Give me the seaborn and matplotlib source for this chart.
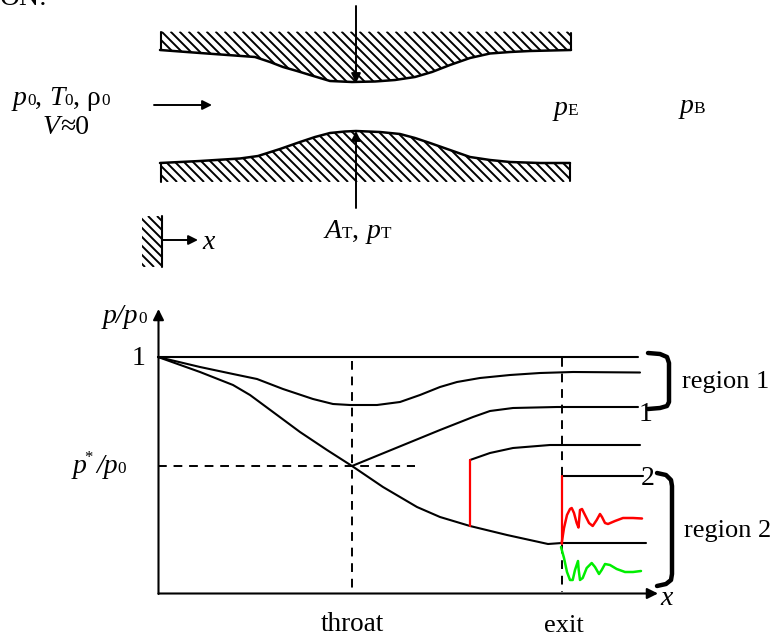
import matplotlib
matplotlib.use("Agg")
import matplotlib.pyplot as plt
from matplotlib.collections import LineCollection
import seaborn as sns

sns.set_theme(style="white")
plt.rcParams["font.family"] = ["Liberation Serif", "DejaVu Serif"]

# nozzle contours
upper_x = [160, 200, 255, 270, 283, 297, 310, 330, 352, 375, 395, 415, 432, 450, 470, 490, 510, 530, 571]
upper_y = [50, 53, 57, 62, 67, 71, 75, 81, 82, 81.5, 80, 77, 72, 65, 58, 53.5, 52, 51, 50]
lower_x = [160, 200, 240, 258, 280, 300, 315, 330, 345, 356, 380, 400, 415, 430, 450, 470, 490, 510, 540, 570]
lower_y = [163, 161, 158.5, 156, 149, 142, 137, 133, 131.5, 131, 132, 134, 138, 143, 150, 157, 160, 162, 163, 163]
nozzle_top = [31.5, 32.5]
nozzle_bottom = [182, 181]
nozzle_ends = [160.5, 571]
wall_x = [142, 162]
wall_y = [216, 267]

# pressure curves
subsonic_high_x = [158, 638]
subsonic_high_y = [357, 357]
subsonic_x = [158, 200, 233, 257, 283, 313, 333, 350, 377, 400, 420, 440, 457, 480, 510, 540, 573, 640]
subsonic_y = [357, 367, 374, 379, 389, 399, 404, 405, 405, 402, 395, 387, 382, 378, 375, 373, 372, 372.5]
choked_x = [352, 440, 473, 490, 513, 557, 638]
choked_y = [466, 430, 417, 411, 408, 407, 407]
super_x = [158, 200, 233, 250, 273, 300, 327, 352, 383, 417, 440, 470, 507, 548, 562, 646]
super_y = [357, 372, 385, 395, 412, 432, 450, 466, 487, 507, 517, 526, 535, 544, 543, 543]
shock_x = [470, 470]
shock_y = [526, 460]
post_shock_x = [470, 490, 513, 550, 640]
post_shock_y = [460, 453, 448, 445, 445]
line2_x = [562, 643]
line2_y = [476, 476]
exit_shock_x = [561.5, 561.5]
exit_shock_y = [476, 544]
red_x = [561.7, 564, 567, 570, 571.7, 574, 576.7, 578.5, 580, 582, 586, 589, 592.7, 596.7, 600, 602, 605, 608, 615, 623, 633, 642]
red_y = [543, 528, 515, 509, 508, 513, 523, 527.5, 510, 509, 517, 523, 526, 520, 514, 517, 523, 524, 521, 518, 518, 518.5]
green_x = [561, 564, 567, 570, 572.7, 575, 578, 578.7, 580, 582.7, 586.7, 591.7, 595, 599, 601.7, 605, 610, 616.7, 625, 633, 641]
green_y = [547, 558, 572, 580, 580, 570, 561, 570, 580, 578, 568, 563, 567, 574, 570, 564, 565, 569, 572, 572, 571]

# guides
throat_x = [352, 352]
throat_y = [361, 594]
exit_x = [562, 562]
exit_y = [358, 592]
critical_x = [158, 415]
critical_y = [466, 466]

# brackets
bracket1_x = [648, 660, 667, 669, 669, 667, 660, 648]
bracket1_y = [353, 354, 357, 363, 402, 406, 408, 409]
bracket2_x = [657, 666, 671, 672, 672, 671, 666, 657]
bracket2_y = [473, 475, 480, 486, 574, 580, 584, 586]

fig = plt.figure(figsize=(7.73, 6.38), dpi=100)
ax = fig.add_axes([0, 0, 1, 1])
ax.set_xlim(0, 773)
ax.set_ylim(638, 0)
ax.axis("off")


def line(x, y, color="black", lw=1.5, ls="-"):
    sns.lineplot(x=x, y=y, sort=False, estimator=None, color=color, linewidth=lw,
                 linestyle=ls, ax=ax, legend=False)


def arrow(start, end, lw=1.4, scale=14):
    ax.annotate("", xy=end, xytext=start,
                arrowprops=dict(arrowstyle="-|>", color="black", lw=lw, mutation_scale=scale,
                                shrinkA=0, shrinkB=0))


def runs(x, y, parts, size=20):
    """Draw consecutive text runs on one baseline. parts: (text, italic, small)."""
    fig.canvas.draw()
    r = fig.canvas.get_renderer()
    for txt, italic, small in parts:
        t = ax.text(x, y, txt, fontsize=size * (0.62 if small else 1),
                    style="italic" if italic else "normal", color="black",
                    va="baseline", ha="left")
        w, _, _ = r.get_text_width_height_descent(txt.replace(" ", "\u00a0"), t.get_fontproperties(), False)
        x += w


def hatch_region(xs, y0, y1):
    poly = ax.fill_between(xs, y0, y1, facecolor="white", linewidth=0)
    top = min(min(y0), min(y1))
    bot = max(max(y0), max(y1))
    segs = []
    c = -500
    while c < 800:
        segs.append([(c + top, top), (c + bot, bot)])
        c += 9
    lc = LineCollection(segs, colors="black", linewidths=1.4)
    ax.add_collection(lc, autolim=False)
    lc.set_clip_path(poly.get_paths()[0], poly.get_transform())


hatch_region(upper_x, [nozzle_top[0]] * len(upper_x), upper_y)
hatch_region(lower_x, lower_y, [nozzle_bottom[0]] * len(lower_x))
hatch_region(wall_x, [wall_y[0]] * 2, [wall_y[1]] * 2)

line(upper_x, upper_y, lw=1.8)
line(lower_x, lower_y, lw=1.8)
line([nozzle_ends[0]] * 2, [nozzle_top[0], upper_y[0]], lw=1.5)
line([nozzle_ends[1]] * 2, [nozzle_top[1], upper_y[-1]], lw=1.5)
line([nozzle_ends[0]] * 2, [lower_y[0], nozzle_bottom[0]], lw=1.5)
line([nozzle_ends[1] - 1] * 2, [lower_y[-1], nozzle_bottom[1]], lw=1.5)
line([wall_x[1]] * 2, wall_y, lw=1.5)

arrow((356, 6), (356, 83))
arrow((356, 208), (356, 131))
arrow((154, 105), (212, 105))
arrow((162, 240), (198, 240))

# axes
arrow((158.5, 594), (158.5, 309), lw=1.5, scale=16)
arrow((158.5, 593.5), (658, 593.5), lw=1.5, scale=16)

# pressure curves
line(throat_x, throat_y, lw=1.4, ls=(0, (4.5, 3.5)))
line(exit_x, exit_y, lw=1.4, ls=(0, (4.5, 3.5)))
line(critical_x, critical_y, lw=1.4, ls=(0, (4.5, 3.5)))
for xs, ys in [(subsonic_high_x, subsonic_high_y), (subsonic_x, subsonic_y),
               (choked_x, choked_y), (super_x, super_y), (post_shock_x, post_shock_y),
               (line2_x, line2_y)]:
    line(xs, ys, lw=1.5)
line(shock_x, shock_y, color="#ff0000", lw=1.6)
line(exit_shock_x, exit_shock_y, color="#ff0000", lw=1.6)
line(red_x, red_y, color="#ff0000", lw=1.8)
line(green_x, green_y, color="#00ee00", lw=1.8)
line(bracket1_x, bracket1_y, lw=3.2)
line(bracket2_x, bracket2_y, lw=3.2)

# text
runs(0, 5, [("ON:", False, False)])
runs(13, 105, [("p", True, False), ("0", False, True), (", ", False, False), ("T", True, False),
               ("0", False, True), (", ρ", False, False), ("0", False, True)])
runs(43, 134, [("V", True, False), ("≈0", False, False)])
runs(554, 115, [("p", True, False), ("E", False, True)])
runs(680, 113, [("p", True, False), ("B", False, True)])
runs(325, 238, [("A", True, False), ("T", False, True), (", ", False, False), ("p", True, False), ("T", False, True)])
runs(202, 249, [("x", True, False)])
runs(103, 323, [("p/p", True, False), ("0", False, True)])
runs(132, 365, [("1", False, False)])
runs(73, 473, [("p", True, False)])
ax.text(84, 462, "*", fontsize=12, ha="left", va="baseline", color="black")
runs(96, 473, [("/p", True, False), ("0", False, True)])
runs(321, 631, [("throat", False, False), ], size=19.5)
runs(544, 632, [("exit", False, False)], size=19)
runs(639, 421, [("1", False, False)])
runs(641, 485, [("2", False, False)])
runs(682, 388, [("region 1", False, False)], size=19)
runs(684, 537, [("region 2", False, False)], size=19)
runs(660, 605, [("x", True, False)])

fig.savefig("out.png", dpi=100, facecolor="white")
